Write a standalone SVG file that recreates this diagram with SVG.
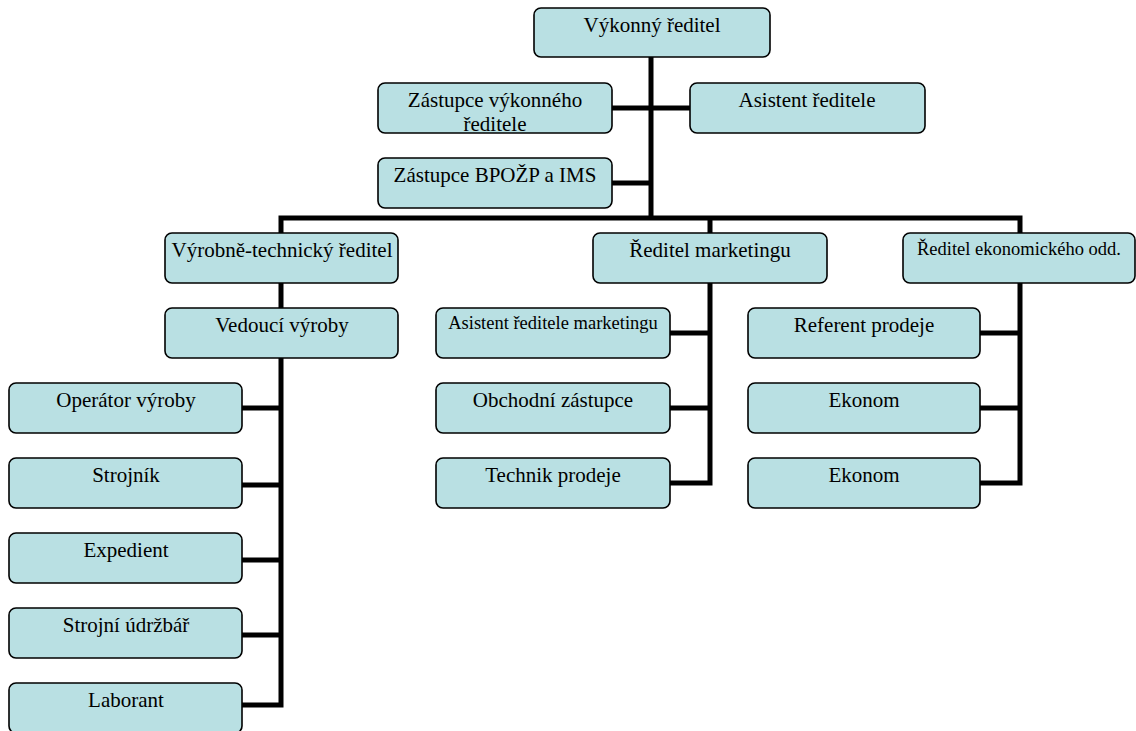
<svg xmlns="http://www.w3.org/2000/svg" width="1136" height="731" viewBox="0 0 1136 731">
<style>
.box{fill:#b9e0e3;stroke:#000;stroke-width:1.6}
.t{font-family:'Liberation Serif','Tinos','Times New Roman','DejaVu Serif',serif;font-size:21px;fill:#000;text-anchor:middle}
.s{font-size:18.5px}
.c{stroke:#000;stroke-width:5;fill:none;stroke-linecap:butt}
</style>
<rect width="1136" height="731" fill="#fff"/>
<g id="connectors">
<path class="c" d="M651 57V218M612 108H690M612 183H651"/>
<path class="c" d="M281 233V218H1020V233M710 218V233"/>
<path class="c" d="M281 283V707.5M242 408H283.5M242 485H283.5M242 560H283.5M242 635H283.5M242 705H283.5"/>
<path class="c" d="M710 283V485.5M670 333H712.5M670 408H712.5M670 483H712.5"/>
<path class="c" d="M1020 283V485.5M980 333H1022.5M980 408H1022.5M980 483H1022.5"/>
</g>
<g id="n_vykonny"><rect class="box" x="534" y="8" width="236" height="49" rx="7"/><text class="t" x="652" y="32">Výkonný ředitel</text></g>
<g id="n_zastupce"><rect class="box" x="378" y="83" width="234" height="50" rx="7"/><text class="t" x="495" y="107">Zástupce výkonného</text><text class="t" x="495" y="130.5">ředitele</text></g>
<g id="n_asistent"><rect class="box" x="690" y="83" width="235" height="50" rx="7"/><text class="t" x="807" y="107">Asistent ředitele</text></g>
<g id="n_bpozp"><rect class="box" x="378" y="158" width="234" height="50" rx="7"/><text class="t" x="495" y="182">Zástupce BPOŽP a IMS</text></g>
<g id="n_vyrtech"><rect class="box" x="165" y="233" width="233" height="50" rx="7"/><text class="t" x="282" y="257">Výrobně-technický ředitel</text></g>
<g id="n_marketing"><rect class="box" x="593" y="233" width="234" height="50" rx="7"/><text class="t" x="710" y="257">Ředitel marketingu</text></g>
<g id="n_ekonom_red"><rect class="box" x="903" y="233" width="232" height="50" rx="7"/><text class="t s" x="1019" y="255">Ředitel ekonomického odd.</text></g>
<g id="n_vedouci"><rect class="box" x="165" y="308" width="233" height="50" rx="7"/><text class="t" x="282" y="332">Vedoucí výroby</text></g>
<g id="n_operator"><rect class="box" x="9" y="383" width="233" height="50" rx="7"/><text class="t" x="126" y="407">Operátor výroby</text></g>
<g id="n_strojnik"><rect class="box" x="9" y="458" width="233" height="50" rx="7"/><text class="t" x="126" y="482">Strojník</text></g>
<g id="n_expedient"><rect class="box" x="9" y="533" width="233" height="50" rx="7"/><text class="t" x="126" y="557">Expedient</text></g>
<g id="n_udrzbar"><rect class="box" x="9" y="608" width="233" height="50" rx="7"/><text class="t" x="126" y="632">Strojní údržbář</text></g>
<g id="n_laborant"><rect class="box" x="9" y="683" width="233" height="50" rx="7"/><text class="t" x="126" y="707">Laborant</text></g>
<g id="n_asist_mkt"><rect class="box" x="436" y="308" width="234" height="50" rx="7"/><text class="t s" x="553" y="329">Asistent ředitele marketingu</text></g>
<g id="n_obchodni"><rect class="box" x="436" y="383" width="234" height="50" rx="7"/><text class="t" x="553" y="407">Obchodní zástupce</text></g>
<g id="n_technik"><rect class="box" x="436" y="458" width="234" height="50" rx="7"/><text class="t" x="553" y="482">Technik prodeje</text></g>
<g id="n_referent"><rect class="box" x="748" y="308" width="232" height="50" rx="7"/><text class="t" x="864" y="332">Referent prodeje</text></g>
<g id="n_ekonom1"><rect class="box" x="748" y="383" width="232" height="50" rx="7"/><text class="t" x="864" y="407">Ekonom</text></g>
<g id="n_ekonom2"><rect class="box" x="748" y="458" width="232" height="50" rx="7"/><text class="t" x="864" y="482">Ekonom</text></g>
</svg>
